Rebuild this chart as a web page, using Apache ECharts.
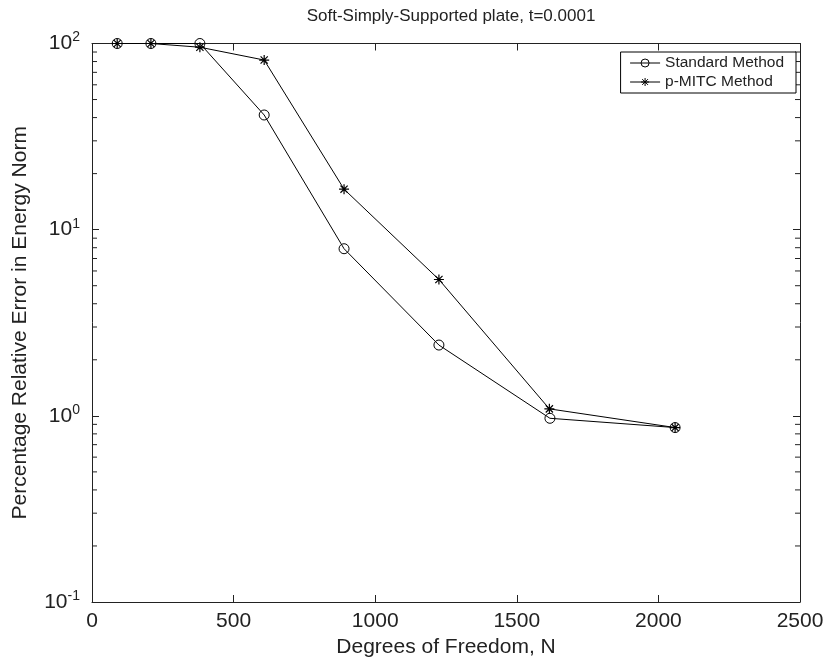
<!DOCTYPE html>
<html>
<head>
<meta charset="utf-8">
<script src="https://cdn.jsdelivr.net/npm/echarts@6/dist/echarts.min.js"></script>
<style>
html,body{margin:0;padding:0;background:#fff;}
#main{width:836px;height:665px;}
</style>
</head>
<body>
<div id="main"></div>
<script>
// data
var dofStandard = [89, 208, 381, 608, 890, 1225, 1617, 2059];
var errStandard = [100, 100, 100, 41.3, 7.9, 2.4, 0.97, 0.865];
var dofMitc = [89, 208, 381, 608, 890, 1225, 1615, 2059];
var errMitc = [100, 100, 95.5, 81.5, 16.5, 5.4, 1.09, 0.865];
var seriesNames = ['Standard Method', 'p-MITC Method'];

var font = 'Liberation Sans, Arial, Helvetica, sans-serif';
var ink = '#222';

// minor ticks of the log axis: 2..9 in each decade
var minorVals = [];
for (var k = -1; k < 2; k++) {
    for (var m = 2; m < 10; m++) {
        minorVals.push(m * Math.pow(10, k));
    }
}

function pairs(xs, ys) {
    var out = [];
    for (var i = 0; i < xs.length; i++) out.push([xs[i], ys[i]]);
    return out;
}

var star = 'path://M0,-5L0,5M-5,0L5,0M-3.6,-3.6L3.6,3.6M-3.6,3.6L3.6,-3.6';

var chart = echarts.init(document.getElementById('main'));

var option = {
    backgroundColor: '#fff',
    animation: false,
    title: {
        text: 'Soft-Simply-Supported plate, t=0.0001',
        left: 446,
        textAlign: 'center',
        top: 3,
        textStyle: {fontFamily: font, fontSize: 17, fontWeight: 'normal', color: ink}
    },
    legend: {
        data: seriesNames,
        orient: 'vertical',
        right: 40,
        top: 52,
        itemWidth: 30,
        itemHeight: 10,
        itemGap: 3,
        padding: [3, 12, 3, 9],
        borderColor: '#000',
        borderWidth: 1,
        backgroundColor: '#fff',
        lineStyle: {width: 1},
        itemStyle: {borderWidth: 1},
        textStyle: {fontFamily: font, fontSize: 15.5, color: ink}
    },
    grid: {left: 92, right: 36, top: 43.5, bottom: 63},
    xAxis: [{
        type: 'value',
        min: 0,
        max: 2500,
        interval: 500,
        name: 'Degrees of Freedom, N',
        nameLocation: 'middle',
        nameGap: 32,
        nameTextStyle: {fontFamily: font, fontSize: 21, color: ink},
        axisLine: {onZero: false, lineStyle: {color: ink, width: 1}},
        axisTick: {inside: true, length: 7, lineStyle: {color: ink}},
        axisLabel: {
            fontFamily: font, fontSize: 21, color: ink, margin: 9,
            formatter: function (v) { return String(v); }
        },
        splitLine: {show: false}
    }, {
        type: 'value',
        position: 'top',
        min: 0,
        max: 2500,
        interval: 500,
        axisLine: {onZero: false, lineStyle: {color: ink, width: 1}},
        axisTick: {inside: true, length: 7, lineStyle: {color: ink}},
        axisLabel: {show: false},
        splitLine: {show: false}
    }],
    yAxis: [{
        type: 'log',
        logBase: 10,
        min: 0.1,
        max: 100,
        name: 'Percentage Relative Error in Energy Norm',
        nameLocation: 'middle',
        nameGap: 61,
        nameTextStyle: {fontFamily: font, fontSize: 21, color: ink},
        axisLine: {onZero: false, lineStyle: {color: ink, width: 1}},
        axisTick: {inside: true, length: 7, lineStyle: {color: ink}},
        axisLabel: {
            margin: 12,
            formatter: function (v) {
                var e = Math.round(Math.log(v) / Math.LN10);
                return '{b|10}{s|' + e + '}';
            },
            rich: {
                b: {fontFamily: font, fontSize: 21, color: ink},
                s: {fontFamily: font, fontSize: 14, color: ink, padding: [0, 0, 12, 0]}
            }
        },
        splitLine: {show: false}
    }, {
        type: 'log',
        logBase: 10,
        min: 0.1,
        max: 100,
        position: 'right',
        axisLine: {onZero: false, lineStyle: {color: ink, width: 1}},
        axisTick: {inside: true, length: 7, lineStyle: {color: ink}},
        axisLabel: {show: false},
        splitLine: {show: false}
    }],
    series: [{
        name: 'minor ticks',
        type: 'custom',
        silent: true,
        data: minorVals,
        encode: {y: 0},
        renderItem: function (params, api) {
            var v = api.value(0);
            var l = api.coord([0, v]);
            var r = api.coord([2500, v]);
            var st = {stroke: ink, lineWidth: 1};
            return {
                type: 'group',
                children: [
                    {type: 'line', shape: {x1: l[0], y1: l[1], x2: l[0] + 5, y2: l[1]}, style: st},
                    {type: 'line', shape: {x1: r[0], y1: r[1], x2: r[0] - 5, y2: r[1]}, style: st}
                ]
            };
        }
    }, {
        name: seriesNames[0],
        type: 'line',
        data: pairs(dofStandard, errStandard),
        symbol: 'circle',
        symbolSize: 10,
        lineStyle: {color: '#000', width: 1},
        itemStyle: {color: 'rgba(255,255,255,0)', borderColor: '#000', borderWidth: 1}
    }, {
        name: seriesNames[1],
        type: 'line',
        data: pairs(dofMitc, errMitc),
        symbol: star,
        symbolSize: 10,
        lineStyle: {color: '#000', width: 1},
        itemStyle: {color: '#000', borderColor: '#000', borderWidth: 1.2}
    }]
};

chart.setOption(option);
</script>
</body>
</html>
